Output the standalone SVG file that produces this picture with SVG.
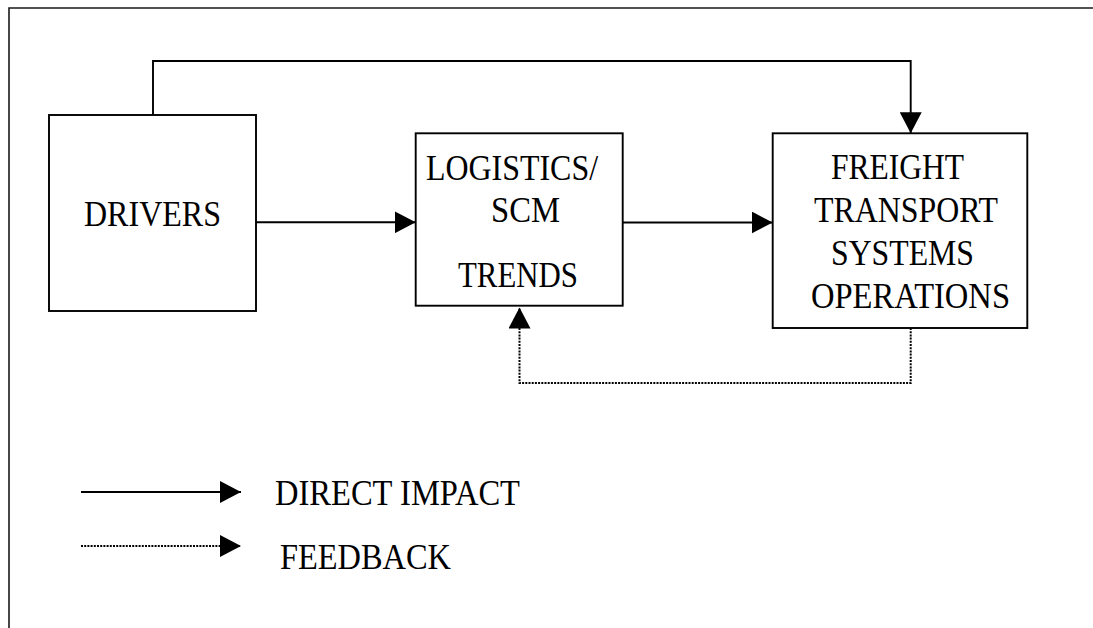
<svg xmlns="http://www.w3.org/2000/svg" width="1093" height="628" viewBox="0 0 1093 628">
  <style>
    .box { fill: #ffffff; stroke: #000000; stroke-width: 1.9; }
    .frame { fill: none; stroke: #1a1a1a; stroke-width: 1.6; }
    .link { fill: none; stroke: #000000; stroke-width: 1.9; }
    .dotted { fill: none; stroke: #000000; stroke-width: 2; stroke-dasharray: 2 1.2; }
    .label { font-family: "Liberation Serif", "Times New Roman", serif; font-size: 36px; fill: #000000; }
    .small { font-size: 35px; }
  </style>
  <defs>
    <marker id="head" markerUnits="userSpaceOnUse" markerWidth="22" markerHeight="22" refX="21" refY="11" orient="auto">
      <path d="M0,0 L21,11 L0,22 Z" fill="#000000"/>
    </marker>
  </defs>

  <rect width="1093" height="628" fill="#ffffff"/>

  <!-- page frame: top and left edges -->
  <path class="frame" d="M9,628 V8 H1093"/>

  <g id="drivers">
    <rect class="box" x="49" y="115" width="207" height="196"/>
    <text class="label" x="84" y="226" textLength="137" lengthAdjust="spacingAndGlyphs">DRIVERS</text>
  </g>

  <g id="logistics">
    <rect class="box" x="415.7" y="133.3" width="207" height="172.4"/>
    <text class="label" x="426" y="180" textLength="172" lengthAdjust="spacingAndGlyphs">LOGISTICS/</text>
    <text class="label" x="491" y="222" textLength="69" lengthAdjust="spacingAndGlyphs">SCM</text>
    <text class="label" x="458" y="287" textLength="120" lengthAdjust="spacingAndGlyphs">TRENDS</text>
  </g>

  <g id="freight">
    <rect class="box" x="772.7" y="133.3" width="254.6" height="194.7"/>
    <text class="label small" x="831" y="179" textLength="133" lengthAdjust="spacingAndGlyphs">FREIGHT</text>
    <text class="label small" x="814" y="222" textLength="184" lengthAdjust="spacingAndGlyphs">TRANSPORT</text>
    <text class="label small" x="831" y="265" textLength="143" lengthAdjust="spacingAndGlyphs">SYSTEMS</text>
    <text class="label small" x="811" y="308" textLength="199" lengthAdjust="spacingAndGlyphs">OPERATIONS</text>
  </g>

  <g id="connectors">
    <path class="link" d="M256,222.3 H415.7" marker-end="url(#head)"/>
    <path class="link" d="M622.7,222.5 H772.7" marker-end="url(#head)"/>
    <path class="link" d="M153,115 V61 H910.7 V133.3" marker-end="url(#head)"/>
    <path class="dotted" d="M910.7,328 V383 H519.5 V307.5" marker-end="url(#head)"/>
  </g>

  <g id="legend">
    <path class="link" d="M81,492 H241" marker-end="url(#head)"/>
    <path class="dotted" d="M81,546 H241" marker-end="url(#head)"/>
    <text class="label small" x="275" y="505" textLength="245" lengthAdjust="spacingAndGlyphs">DIRECT IMPACT</text>
    <text class="label small" x="280" y="569" textLength="171" lengthAdjust="spacingAndGlyphs">FEEDBACK</text>
  </g>
</svg>
